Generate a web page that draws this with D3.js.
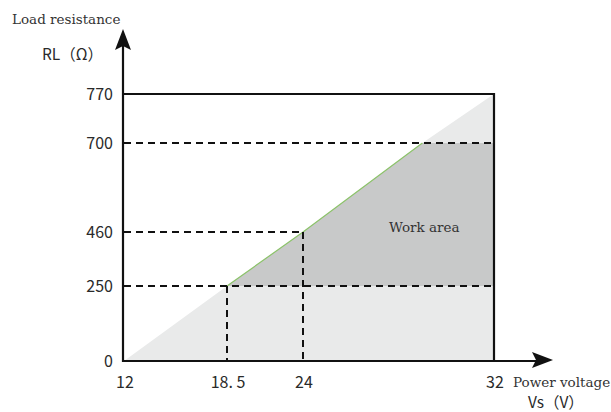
<!DOCTYPE html>
<html><head><meta charset="utf-8">
<script src="https://cdn.jsdelivr.net/npm/d3@7"></script>
<style>body{margin:0;background:#fff}</style>
</head><body>
<svg id="c" width="611" height="412"></svg>
<script>
// Data
const xTicks = [12, 18.5, 24, 32];
const xTickLabels = ["12", "18. 5", "24", "32"];
const yTicks = [0, 250, 460, 700, 770];
const yTickLabels = ["0", "250", "460", "700", "770"];
// boundary line of the load (Vs -> RL)
const lineVs = [12, 18.5, 24, 29, 32];
const lineRL = [0, 250, 460, 700, 770];
// work area limits
const workMinRL = 250, workMaxRL = 700, workMaxVs = 32;

const svg = d3.select("#c");
// piecewise scales (the chart is not drawn to linear scale)
const x = d3.scaleLinear().domain([12, 18.5, 24, 32]).range([124, 227, 303, 494]);
const y = d3.scaleLinear().domain([0, 250, 460, 700, 770]).range([361, 286, 232, 143, 94]);

// light gray triangle
const tri = lineVs.map((v, i) => [x(v), y(lineRL[i])]);
tri.push([x(32), y(0)]);
svg.append("path").attr("d", d3.line()(tri)).attr("fill", "#e9eaea");

// work area polygon
const wa = [];
lineVs.forEach((v, i) => { if (lineRL[i] >= workMinRL && lineRL[i] <= workMaxRL) wa.push([x(v), y(lineRL[i])]); });
wa.push([x(workMaxVs), y(workMaxRL)]);
wa.push([x(workMaxVs), y(workMinRL)]);
svg.append("path").attr("d", d3.line()(wa) + "Z").attr("fill", "#c8c9c9");

// green edge
const edge = [];
lineVs.forEach((v, i) => { if (lineRL[i] >= workMinRL && lineRL[i] <= workMaxRL) edge.push([x(v), y(lineRL[i])]); });
svg.append("path").attr("d", d3.line()(edge)).attr("fill", "none").attr("stroke", "#8cc36a").attr("stroke-width", 1.2);

// dashed guides
const dash = "7,5";
const g = svg.append("g").attr("stroke", "#111").attr("stroke-width", 2).attr("stroke-dasharray", dash).attr("fill", "none");
g.append("line").attr("x1", x(12)).attr("x2", x(32)).attr("y1", y(700)).attr("y2", y(700));
g.append("line").attr("x1", x(12)).attr("x2", x(24)).attr("y1", y(460)).attr("y2", y(460));
g.append("line").attr("x1", x(12)).attr("x2", x(32)).attr("y1", y(250)).attr("y2", y(250));
g.append("line").attr("x1", x(18.5)).attr("x2", x(18.5)).attr("y1", y(250)).attr("y2", y(0));
g.append("line").attr("x1", x(24)).attr("x2", x(24)).attr("y1", y(460)).attr("y2", y(0));

// box top and right
svg.append("path").attr("d", `M${x(12)},${y(770)}H${x(32)}V${y(0)}`).attr("fill", "none").attr("stroke", "#111").attr("stroke-width", 2.2);

// axes
const ax = svg.append("g").attr("stroke", "#111").attr("stroke-width", 2.2);
ax.append("line").attr("x1", 123).attr("x2", 123).attr("y1", y(0) + 1).attr("y2", 40);
ax.append("line").attr("x1", 122).attr("x2", 540).attr("y1", y(0)).attr("y2", y(0));
svg.append("path").attr("d", "M123,29L131,50L123,46L115,50Z").attr("fill", "#111");
svg.append("path").attr("d", "M553,360L532,352L536,360L532,368Z").attr("fill", "#111");

const sans = "'Noto Sans CJK SC','Noto Sans',sans-serif";
const serif = "'DejaVu Serif','Liberation Serif',serif";

// y tick labels
svg.append("g").selectAll("text").data(yTicks).join("text")
  .attr("x", 113).attr("y", d => y(d)).attr("dy", "0.36em").attr("text-anchor", "end")
  .attr("font-family", sans).attr("font-size", 16).attr("fill", "#2a2a2a")
  .text((d, i) => yTickLabels[i]);
// x tick labels
svg.append("g").selectAll("text").data(xTicks).join("text")
  .attr("x", d => x(d) + 1).attr("y", 388).attr("text-anchor", "middle")
  .attr("font-family", sans).attr("font-size", 16).attr("fill", "#2a2a2a")
  .text((d, i) => xTickLabels[i]);

svg.append("text").attr("x", 12).attr("y", 24).attr("font-family", serif).attr("font-size", 13.5).attr("fill", "#333").text("Load resistance");
svg.append("text").attr("x", 42).attr("y", 60).attr("font-family", sans).attr("font-size", 15.5).attr("fill", "#2a2a2a").text("RL（Ω）");
svg.append("text").attr("x", 389).attr("y", 232).attr("font-family", serif).attr("font-size", 13.5).attr("fill", "#333").text("Work area");
svg.append("text").attr("x", 513).attr("y", 387).attr("font-family", serif).attr("font-size", 13.5).attr("fill", "#333").text("Power voltage");
svg.append("text").attr("x", 528).attr("y", 408).attr("font-family", sans).attr("font-size", 15.5).attr("fill", "#2a2a2a").text("Vs（V）");
</script>
</body></html>
